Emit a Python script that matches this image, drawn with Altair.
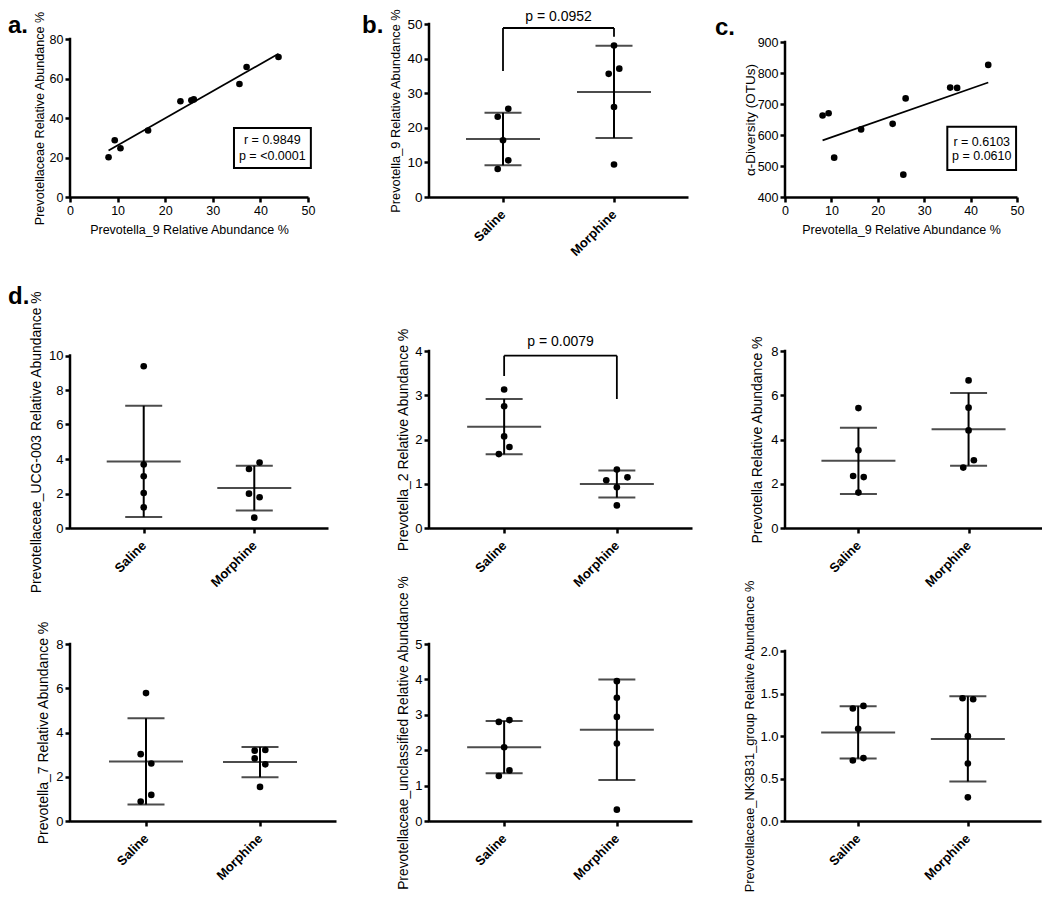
import altair as alt
import pandas as pd

FONT = "Liberation Sans"
INK = "#000000"

# ---------------- data ----------------
groups = ["Saline", "Morphine"]

# Prevotella_9 relative abundance % (panel b, and x of panels a / c)
p9_saline = [8.1, 10.6, 16.4, 23.2, 25.5]
p9_morphine = [9.4, 26.0, 35.6, 37.1, 43.8]
# Prevotellaceae relative abundance % (panel a, same samples)
prevotellaceae_saline = [20.1, 24.7, 33.7, 48.5, 49.0]
prevotellaceae_morphine = [28.75, 49.4, 57.2, 65.8, 70.9]
# alpha diversity (OTUs) (panel c, same samples)
otus_saline = [663, 527, 618, 636, 472]
otus_morphine = [670, 718, 753, 752, 826]

# panel d
ucg003_saline = [9.38, 3.68, 3.0, 2.03, 1.2]
ucg003_morphine = [0.6, 1.99, 1.78, 3.42, 3.79]
prev2_saline = [3.13, 2.75, 2.07, 1.67, 1.83]
prev2_morphine = [1.32, 0.92, 1.08, 1.145, 0.51]
prev_saline = [5.42, 3.51, 2.35, 2.30, 1.6]
prev_morphine = [6.67, 5.44, 4.41, 2.73, 3.06]
prev7_saline = [5.78, 3.02, 2.60, 0.88, 1.18]
prev7_morphine = [2.83, 2.56, 3.18, 3.21, 1.54]
uncl_saline = [2.80, 2.85, 2.08, 1.27, 1.43]
uncl_morphine = [3.95, 3.48, 2.94, 2.19, 0.32]
nk3b31_saline = [1.323, 1.354, 1.084, 0.712, 0.740]
nk3b31_morphine = [1.444, 1.432, 0.998, 0.677, 0.278]

stats_a = ["r = 0.9849", "p = <0.0001"]
stats_c = ["r = 0.6103", "p = 0.0610"]
p_b = "p = 0.0952"
p_d2 = "p = 0.0079"
x_title = "Prevotella_9 Relative Abundance %"


# ---------------- helpers ----------------
def jitter(values, ppu, thresh=11.0, step=10.6):
    """GraphPad-like spreading of points that sit close together (pixels)."""
    order = sorted(range(len(values)), key=lambda i: values[i])
    rows, cur = [], [order[0]]
    for i in order[1:]:
        if (values[i] - values[cur[0]]) * ppu < thresh:
            cur.append(i)
        else:
            rows.append(cur)
            cur = [i]
    rows.append(cur)
    off = [0.0] * len(values)
    for row in rows:
        row = sorted(row)
        n = len(row)
        seq = [0.0] if n % 2 else []
        k = 1.0 if n % 2 else 0.5
        while len(seq) < n:
            seq += [-k, k]
            k += 1
        for idx, s in zip(row, seq):
            off[idx] = s * step
    return off


def letter_layer(t, dx, dy):
    return alt.Chart(pd.DataFrame({"t": [t]})).mark_text(
        font=FONT, fontSize=24, fontWeight="bold", align="left",
        baseline="alphabetic", color=INK
    ).encode(text="t:N", x=alt.value(dx), y=alt.value(dy))


def cat_panel(saline, morphine, ytitle, vis_max, ystep, W, H, vis_px,
              title_dx, title_fs, label_fs=13, fmt="d", bracket=None, letter=None):
    dom_max = vis_max * H / vis_px
    ppu = H / dom_max
    unit = W * 3.0 / 7.0
    rows = []
    for gi, vals in ((1, saline), (2, morphine)):
        offs = jitter(vals, ppu)
        for v, o in zip(vals, offs):
            rows.append({"gx": gi, "value": v, "xpos": gi + o / unit})
    df = pd.DataFrame(rows)

    ticks = []
    t = 0.0
    while t <= vis_max + 1e-9:
        ticks.append(round(t, 6))
        t += ystep
    top_vis = H - vis_max * ppu

    xscale = alt.Scale(domain=[1 / 3, 8 / 3], nice=False, zero=False)
    yscale = alt.Scale(domain=[0, dom_max], nice=False, zero=False)
    yaxis = alt.Axis(values=ticks, domain=False, title=ytitle, titleX=-title_dx,
                     titleY=(top_vis + H) / 2, titleBaseline="middle",
                     titleFontSize=title_fs, labelFontSize=label_fs, format=fmt)
    xaxis = alt.Axis(values=[1, 2],
                     labelExpr="datum.value == 1 ? '%s' : '%s'" % (groups[0], groups[1]),
                     labelAngle=-45, labelAlign="right", labelBaseline="middle",
                     labelFontWeight="bold", labelFontSize=13, labelPadding=10, title=None)

    def X(f):
        return alt.X(f, type="quantitative", scale=xscale, axis=xaxis)

    def Y(f):
        return alt.Y(f, type="quantitative", scale=yscale, axis=yaxis)

    base = alt.Chart(df)
    pts = base.mark_circle(size=44, color=INK, opacity=1).encode(x=X("xpos"), y=Y("value"))
    st = base.transform_aggregate(m="mean(value)", s="stdev(value)", groupby=["gx"]) \
        .transform_calculate(lo="datum.m - datum.s", hi="datum.m + datum.s")
    mean_t = st.mark_tick(orient="horizontal", size=74, thickness=2, color=INK).encode(
        x=X("gx"), y=Y("m"))
    sd_r = st.mark_rule(strokeWidth=2, color=INK).encode(x=X("gx"), y=Y("lo"), y2="hi:Q")
    cap_lo = st.mark_tick(orient="horizontal", size=37, thickness=2, color=INK).encode(
        x=X("gx"), y=Y("lo"))
    cap_hi = st.mark_tick(orient="horizontal", size=37, thickness=2, color=INK).encode(
        x=X("gx"), y=Y("hi"))
    yline = alt.Chart(pd.DataFrame({"a": [0.0], "b": [vis_max]})).mark_rule(
        strokeWidth=2.5, color=INK, strokeCap="square"
    ).encode(x=alt.value(0), y=Y("a"), y2="b:Q")

    layers = [yline, sd_r, cap_lo, cap_hi, mean_t, pts]
    if bracket is not None:
        top, left_end, right_end, ty, txt = bracket
        bdf = pd.DataFrame({"x0": [1, 1, 2], "x1": [2, 1, 2],
                            "y0": [top, left_end, top], "y1": [top, top, right_end]})
        layers.append(alt.Chart(bdf).mark_rule(strokeWidth=1.8, color=INK).encode(
            x=X("x0"), x2="x1:Q", y=Y("y0"), y2="y1:Q"))
        layers.append(alt.Chart(pd.DataFrame({"t": [txt], "x": [1.5], "y": [ty]})).mark_text(
            font=FONT, fontSize=14, color=INK, baseline="middle"
        ).encode(x=X("x"), y=Y("y"), text="t:N"))
    if letter is not None:
        layers.append(letter_layer(*letter))
    return alt.layer(*layers).properties(width=W, height=H)


def scatter_panel(xs, ys, ytitle, vis_min, vis_max, ystep, W, H, vis_px,
                  title_dx, title_fs, stats, box, letter):
    dom_max = vis_min + (vis_max - vis_min) * H / vis_px
    ppu = H / (dom_max - vis_min)
    top_vis = H - (vis_max - vis_min) * ppu
    df = pd.DataFrame({"x": xs, "y": ys})
    ticks = list(range(int(vis_min), int(vis_max) + 1, ystep))
    xscale = alt.Scale(domain=[0, 50], nice=False, zero=False)
    yscale = alt.Scale(domain=[vis_min, dom_max], nice=False, zero=False)
    xaxis = alt.Axis(values=[0, 10, 20, 30, 40, 50], title=x_title, titleFontSize=12.5,
                     titleY=32, titleBaseline="middle", labelFontSize=12.5, format="d")
    yaxis = alt.Axis(values=ticks, domain=False, title=ytitle, titleX=-title_dx,
                     titleY=(top_vis + H) / 2, titleBaseline="middle",
                     titleFontSize=title_fs, labelFontSize=12.5, format="d")

    def X(f):
        return alt.X(f, type="quantitative", scale=xscale, axis=xaxis)

    def Y(f):
        return alt.Y(f, type="quantitative", scale=yscale, axis=yaxis)

    pts = alt.Chart(df).mark_circle(size=44, color=INK, opacity=1).encode(x=X("x"), y=Y("y"))
    reg = alt.Chart(df).transform_regression("x", "y").mark_line(
        color=INK, strokeWidth=1.7).encode(x=X("x"), y=Y("y"))
    yline = alt.Chart(pd.DataFrame({"a": [vis_min], "b": [vis_max]})).mark_rule(
        strokeWidth=2.5, color=INK, strokeCap="square"
    ).encode(x=alt.value(0), y=Y("a"), y2="b:Q")
    bx0, bx1, by0, by1, tx, ty1, ty2 = box
    rect = alt.Chart(pd.DataFrame({"x0": [bx0], "x1": [bx1], "y0": [by0], "y1": [by1]})).mark_rect(
        fill="white", stroke=INK, strokeWidth=2
    ).encode(x=X("x0"), x2="x1:Q", y=Y("y0"), y2="y1:Q")
    txt = alt.Chart(pd.DataFrame({"t": stats, "x": [tx, tx], "y": [ty1, ty2]})).mark_text(
        font=FONT, fontSize=12.5, color=INK, baseline="middle"
    ).encode(x=X("x"), y=Y("y"), text="t:N")
    return alt.layer(yline, reg, pts, rect, txt, letter_layer(*letter)).properties(width=W, height=H)


# ---------------- panels ----------------
all_p9 = p9_saline + p9_morphine

pa = scatter_panel(all_p9, prevotellaceae_saline + prevotellaceae_morphine,
                   "Prevotellaceae Relative Abundance %", 0, 80, 20, 238, 173, 158,
                   31, 12.6, stats_a, (34.45, 50.6, 14.7, 34.9, 42.5, 28.9, 20.9),
                   ("a.", -62, 9))
pb = cat_panel(p9_saline, p9_morphine, "Prevotella_9 Relative Abundance %", 50, 10,
               259, 173, 173, 34, 12.8, label_fs=13.5,
               bracket=(48.84, 36.4, 46.3, 51.9, p_b), letter=("b.", -67, 9))
pc = scatter_panel(all_p9, otus_saline + otus_morphine, "\u03b1-Diversity (OTUs)",
                   400, 900, 100, 232, 173, 155, 35, 13.5, stats_c,
                   (34.98, 49.8, 487.1, 626.8, 42.4, 578.4, 532.3), ("c.", -70, 11))

pd1 = cat_panel(ucg003_saline, ucg003_morphine, "Prevotellaceae_UCG-003 Relative Abundance %",
                10, 2, 258, 215, 172.5, 34, 13.9, letter=("d.", -62, -9))
pd2 = cat_panel(prev2_saline, prev2_morphine, "Prevotella_2 Relative Abundance %",
                4, 1, 263, 215, 177, 26, 14, bracket=(3.894, 3.435, 2.915, 4.21, p_d2))
pd3 = cat_panel(prev_saline, prev_morphine, "Prevotella Relative Abundance %",
                8, 2, 257, 215, 177, 27.5, 14)

pd4 = cat_panel(prev7_saline, prev7_morphine, "Prevotella_7 Relative Abundance %",
                8, 2, 266, 177, 177, 27, 14)
pd5 = cat_panel(uncl_saline, uncl_morphine, "Prevotellaceae_unclassified Relative Abundance %",
                5, 1, 263, 177, 177, 26, 13.8)
pd6 = cat_panel(nk3b31_saline, nk3b31_morphine, "Prevotellaceae_NK3B31_group Relative Abundance %",
                2.0, 0.5, 256, 177, 170, 36, 12.8, fmt=".1f")

chart = alt.concat(
    pa, pb, pc, pd1, pd2, pd3, pd4, pd5, pd6,
    columns=3,
    spacing=alt.RowColnumber(row=116, column=93),
    bounds="flush",
    align="each",
).properties(
    padding={"left": 0, "top": 0, "right": 0, "bottom": 0}
).configure_view(stroke=None).configure_axis(
    labelFont=FONT, titleFont=FONT, labelColor=INK, titleColor=INK,
    domainColor=INK, tickColor=INK, domainWidth=2.5, tickWidth=2.5, tickSize=5,
    grid=False, labelPadding=2, titleFontWeight="normal", labelFlush=False
)

chart.save("out.html", embed_options={"renderer": "svg", "actions": False})
